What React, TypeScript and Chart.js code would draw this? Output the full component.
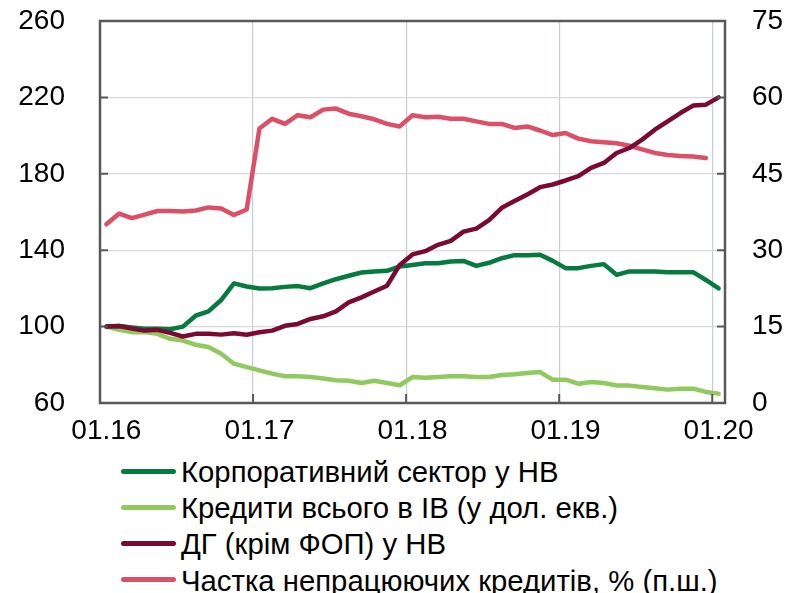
import React, { useEffect, useRef } from 'react';
import { Chart, registerables } from 'chart.js';
Chart.register(...registerables);

const months = [
  '01.16','02.16','03.16','04.16','05.16','06.16','07.16','08.16','09.16','10.16','11.16','12.16',
  '01.17','02.17','03.17','04.17','05.17','06.17','07.17','08.17','09.17','10.17','11.17','12.17',
  '01.18','02.18','03.18','04.18','05.18','06.18','07.18','08.18','09.18','10.18','11.18','12.18',
  '01.19','02.19','03.19','04.19','05.19','06.19','07.19','08.19','09.19','10.19','11.19','12.19',
  '01.20',
];
const yearTickLabels = ['01.16', '01.17', '01.18', '01.19', '01.20'];

const corporateUAH = [
  100, 100.3, 99.6, 98.9, 98.9, 98.6, 100, 105.7, 108, 113.9, 122.6, 121,
  120, 120.1, 120.8, 121.2, 120.1, 122.6, 124.8, 126.6, 128.3, 128.9, 129.2, 131.5,
  132.3, 133.2, 133.2, 134.1, 134.4, 131.8, 133.4, 135.8, 137.4, 137.4, 137.6, 134.4,
  130.6, 130.6, 131.8, 132.7, 127.1, 128.9, 128.9, 128.9, 128.5, 128.5, 128.5, 124.4,
  120.0,
];
const totalFX = [
  100, 98.3, 97.1, 97.1, 96.2, 93.6, 92.7, 90.5, 89.3, 85.8, 80.6, 78.8,
  77.1, 75.4, 74.0, 74.0, 73.6, 72.8, 71.9, 71.6, 70.5, 71.6, 70.5, 69.3,
  73.6, 73.2, 73.6, 74.0, 74.0, 73.6, 73.6, 74.7, 75.0, 75.7, 76.2, 72.2,
  72.2, 70.1, 71.0, 70.5, 69.2, 69.1, 68.4, 67.7, 67.0, 67.5, 67.5, 65.8,
  64.9,
];
const householdsUAH = [
  100, 100.3, 99, 97.9, 98.3, 96.7, 94.8, 96.2, 96.2, 95.8, 96.5, 95.7,
  97.0, 97.9, 100.4, 101.4, 104.0, 105.4, 108.0, 112.7, 115.3, 118.4, 121.4, 132.3,
  137.8, 139.5, 142.8, 144.9, 149.7, 151.3, 155.7, 162.2, 165.7, 169.2, 173.0, 174.4,
  176.5, 178.8, 183.1, 185.7, 190.9, 193.5, 197.9, 203.1, 207.5, 211.8, 215.7, 216.2,
  220.0,
];
const nplShare = [
  35.1, 37.2, 36.3, 37.0, 37.7, 37.7, 37.6, 37.8, 38.4, 38.2, 36.9, 38.0,
  53.9, 55.8, 54.8, 56.5, 56.1, 57.6, 57.8, 56.8, 56.3, 55.7, 54.8, 54.3,
  56.5, 56.1, 56.2, 55.8, 55.8, 55.3, 54.8, 54.8, 54.0, 54.3, 53.5, 52.6,
  53.0, 51.9, 51.4, 51.2, 51.0, 50.5, 49.8, 49.1, 48.7, 48.5, 48.4, 48.1,
];

const seriesNames = [
  'Корпоративний сектор у НВ',
  'Кредити всього в ІВ (у дол. екв.)',
  'ДГ (крім ФОП) у НВ',
  'Частка непрацюючих кредитів, % (п.ш.)',
];
const seriesColors = ['#067B40', '#92C95F', '#7B0A33', '#DD4F67'];

const FONT = '"Liberation Sans", Arial, sans-serif';

const framePlugin = {
  id: 'frame',
  afterDraw(chart: any) {
    const { ctx, chartArea, scales } = chart;
    const { left, right, top, bottom } = chartArea;
    ctx.save();
    ctx.strokeStyle = '#595959';
    ctx.lineWidth = 2;
    ctx.beginPath();
    scales.y.ticks.forEach((t: any) => {
      const y = scales.y.getPixelForValue(t.value);
      ctx.moveTo(left, y);
      ctx.lineTo(left + 8, y);
    });
    scales.y1.ticks.forEach((t: any) => {
      const y = scales.y1.getPixelForValue(t.value);
      ctx.moveTo(right - 8, y);
      ctx.lineTo(right, y);
    });
    months.forEach((m, i) => {
      if (i > 0 && yearTickLabels.includes(m)) {
        const x = scales.x.getPixelForValue(i - 0.5);
        ctx.moveTo(x, bottom);
        ctx.lineTo(x, bottom - 9);
      }
    });
    ctx.stroke();
    ctx.lineWidth = 2.5;
    ctx.strokeRect(left, top, right - left, bottom - top);
    ctx.restore();
  },
};

export default function App() {
  const ref = useRef<HTMLCanvasElement>(null);

  useEffect(() => {
    if (!ref.current) return;
    const mk = (i: number, data: number[], axis: string, order: number) => ({
      label: seriesNames[i],
      data,
      yAxisID: axis,
      borderColor: seriesColors[i],
      backgroundColor: seriesColors[i],
      borderWidth: 4.5,
      pointRadius: 0,
      tension: 0,
      borderCapStyle: 'round',
      borderJoinStyle: 'round',
      order,
    });
    const chart = new Chart(ref.current, {
      type: 'line',
      data: {
        labels: months,
        datasets: [
          mk(0, corporateUAH, 'y', 3),
          mk(1, totalFX, 'y', 4),
          mk(2, householdsUAH, 'y', 1),
          mk(3, nplShare, 'y1', 2),
        ] as any,
      },
      options: {
        responsive: false,
        animation: false,
        devicePixelRatio: 1,
        layout: { padding: { top: 21, left: 0, right: 0, bottom: 0 } },
        plugins: { legend: { display: false }, tooltip: { enabled: false } },
        scales: {
          x: {
            type: 'category',
            offset: true,
            border: { display: false },
            grid: {
              offset: true,
              drawTicks: false,
              lineWidth: 1.2,
              color: (c: any) =>
                c.index > 0 && c.index < months.length && yearTickLabels.includes(months[c.index])
                  ? '#C6CDD0'
                  : 'transparent',
            },
            ticks: {
              autoSkip: false,
              maxRotation: 0,
              minRotation: 0,
              padding: 11,
              color: '#000',
              font: { family: FONT, size: 28 },
              callback: (_v: any, i: number) => (yearTickLabels.includes(months[i]) ? months[i] : ''),
            },
            afterFit: (s: any) => {
              s.height = 45;
              s.paddingLeft = 0;
              s.paddingRight = 0;
            },
          },
          y: {
            position: 'left',
            min: 60,
            max: 260,
            border: { display: false },
            grid: { color: '#D9D9D9', lineWidth: 1.2, drawTicks: false },
            ticks: {
              stepSize: 40,
              padding: 35,
              color: '#000',
              font: { family: FONT, size: 28 },
            },
            afterFit: (s: any) => {
              s.width = 100;
              s.paddingTop = 0;
              s.paddingBottom = 0;
            },
          },
          y1: {
            position: 'right',
            min: 0,
            max: 75,
            border: { display: false },
            grid: { drawOnChartArea: false, drawTicks: false },
            ticks: {
              stepSize: 15,
              padding: 27,
              color: '#000',
              font: { family: FONT, size: 28 },
            },
            afterFit: (s: any) => {
              s.width = 63;
              s.paddingTop = 0;
              s.paddingBottom = 0;
            },
          },
        },
      } as any,
      plugins: [framePlugin],
    });
    return () => chart.destroy();
  }, []);

  const rowCenters = [471, 507, 543, 579.5];
  const fs = 29.3;

  return (
    <div style={{ position: 'absolute', left: 0, top: 0, width: 788, height: 593, background: '#fff', overflow: 'hidden' }}>
      <canvas ref={ref} width={788} height={448} style={{ position: 'absolute', left: 0, top: 0, width: 788, height: 448 }} />
      {seriesNames.map((name, i) => (
        <React.Fragment key={name}>
          <div
            style={{
              position: 'absolute',
              left: 121,
              top: rowCenters[i] - 2.5,
              width: 55,
              height: 5,
              borderRadius: 3,
              background: seriesColors[i],
            }}
          />
          <div
            style={{
              position: 'absolute',
              left: 181,
              top: rowCenters[i] + 1 - fs / 2,
              height: fs,
              lineHeight: fs + 'px',
              fontFamily: FONT,
              fontSize: fs,
              color: '#000',
              whiteSpace: 'nowrap',
            }}
          >
            {name}
          </div>
        </React.Fragment>
      ))}
    </div>
  );
}
